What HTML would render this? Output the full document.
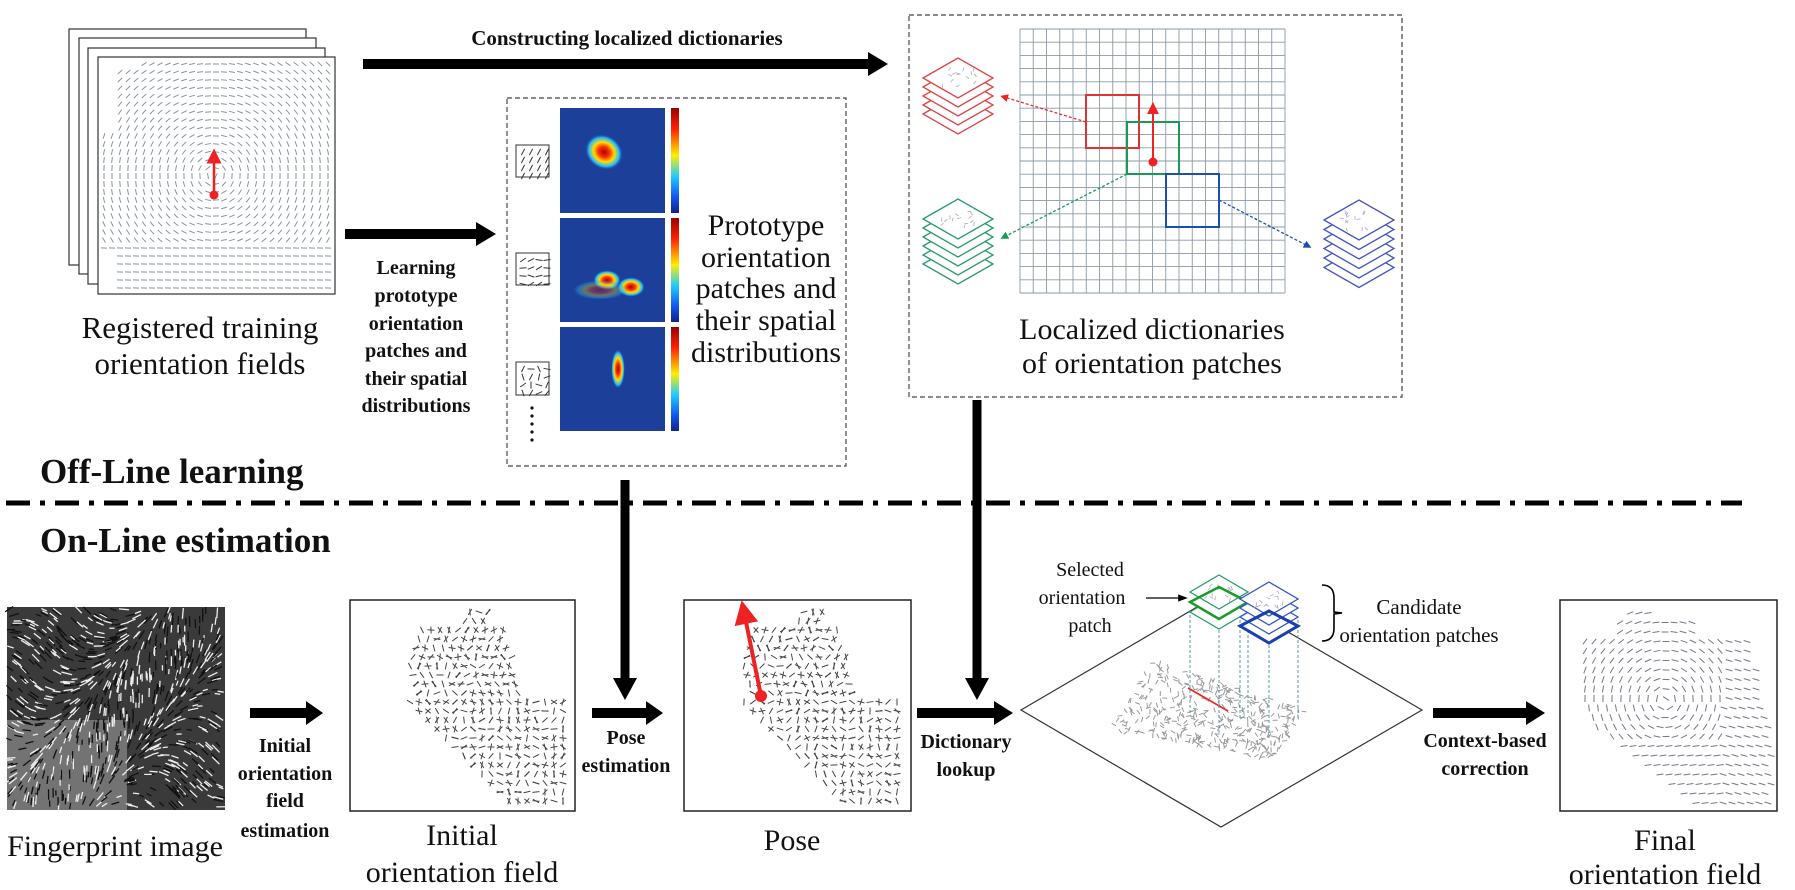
<!DOCTYPE html>
<html><head><meta charset="utf-8"><style>
html,body{margin:0;padding:0;background:#fff}
svg{display:block}
.s{font-family:"Liberation Serif",serif;fill:#111}
.b{font-family:"Liberation Serif",serif;font-weight:bold;fill:#111}
</style></head><body>
<svg id="sv" width="1795" height="890" viewBox="0 0 1795 890" xmlns="http://www.w3.org/2000/svg">
<defs>
<marker id="ahr" markerWidth="6" markerHeight="6" refX="3" refY="3" orient="auto" markerUnits="strokeWidth"><path d="M0,0 L6,3 L0,6z" fill="#e22"/></marker>
<marker id="ahg" markerWidth="6" markerHeight="6" refX="3" refY="3" orient="auto" markerUnits="strokeWidth"><path d="M0,0 L6,3 L0,6z" fill="#1a9a55"/></marker>
<marker id="ahb" markerWidth="6" markerHeight="6" refX="3" refY="3" orient="auto" markerUnits="strokeWidth"><path d="M0,0 L6,3 L0,6z" fill="#1a4fb0"/></marker>
<marker id="aht" markerWidth="8" markerHeight="8" refX="4" refY="4" orient="auto" markerUnits="strokeWidth"><path d="M0,1 L8,4 L0,7z" fill="#000"/></marker>
<radialGradient id="h1" cx="0.5" cy="0.5" r="0.5"><stop offset="0" stop-color="#a00"/><stop offset="0.3" stop-color="#f30"/><stop offset="0.55" stop-color="#fd0"/><stop offset="0.8" stop-color="#2bf"/><stop offset="1" stop-color="#1c3f9a" stop-opacity="0"/></radialGradient>
<linearGradient id="cb" x1="0" y1="0" x2="0" y2="1"><stop offset="0" stop-color="#900"/><stop offset="0.2" stop-color="#f20"/><stop offset="0.45" stop-color="#fe0"/><stop offset="0.65" stop-color="#2cf"/><stop offset="0.85" stop-color="#15e"/><stop offset="1" stop-color="#128"/></linearGradient>
</defs>

<g fill="#fff" stroke="#333" stroke-width="1.2">
<rect x="69" y="29" width="237" height="236"/>
<rect x="79" y="38" width="237" height="236"/>
<rect x="88" y="48" width="237" height="236"/>
<rect x="98" y="57" width="237" height="237"/>
</g>
<g id="tf"></g>
<line x1="214" y1="195" x2="214" y2="156" stroke="#e22" stroke-width="2.5" marker-end="url(#ahr)"/>
<circle cx="214" cy="195" r="4.5" fill="#e22"/>
<text class="s" x="200" y="338" font-size="31" text-anchor="middle">Registered training</text>
<text class="s" x="200" y="374" font-size="31" text-anchor="middle">orientation fields</text>

<text class="b" x="627" y="45" font-size="21" text-anchor="middle">Constructing  localized  dictionaries</text>
<line x1="363" y1="64" x2="872" y2="64" stroke="#000" stroke-width="10"/>
<path d="M868,52 L888,64 L868,76z" fill="#000"/>

<line x1="345" y1="234" x2="480" y2="234" stroke="#000" stroke-width="10"/>
<path d="M476,222 L496,234 L476,246z" fill="#000"/>
<g class="b" font-size="20" text-anchor="middle">
<text x="416" y="274">Learning</text><text x="416" y="302">prototype</text><text x="416" y="330">orientation</text><text x="416" y="357">patches and</text><text x="416" y="385">their spatial</text><text x="416" y="412">distributions</text>
</g>

<rect x="507" y="98" width="339" height="368" fill="none" stroke="#444" stroke-width="1.2" stroke-dasharray="5,3"/>
<g stroke="#333" fill="#fff"><rect x="516" y="145" width="33" height="32"/><rect x="516" y="253" width="33" height="32"/><rect x="516" y="362" width="33" height="33"/></g>
<g id="icons"></g>
<g fill="#111"><circle cx="532" cy="408" r="1.6"/><circle cx="532" cy="416" r="1.6"/><circle cx="532" cy="424" r="1.6"/><circle cx="532" cy="432" r="1.6"/><circle cx="532" cy="440" r="1.6"/></g>
<rect x="560" y="108" width="105" height="105" fill="#1c3f9a"/>
<rect x="560" y="218" width="105" height="104" fill="#1c3f9a"/>
<rect x="560" y="327" width="105" height="104" fill="#1c3f9a"/>
<ellipse cx="604" cy="152" rx="20" ry="17" fill="url(#h1)" transform="rotate(35 604 152)"/>
<ellipse cx="607" cy="280" rx="14" ry="10" fill="url(#h1)"/>
<ellipse cx="631" cy="287" rx="14" ry="10" fill="url(#h1)"/>
<ellipse cx="600" cy="290" rx="28" ry="10" fill="url(#h1)" opacity="0.35"/>
<ellipse cx="618" cy="369" rx="7" ry="20" fill="url(#h1)"/>
<rect x="671" y="108" width="8" height="105" fill="url(#cb)"/>
<rect x="671" y="218" width="8" height="104" fill="url(#cb)"/>
<rect x="671" y="327" width="8" height="104" fill="url(#cb)"/>
<g class="s" font-size="30" text-anchor="middle">
<text x="766" y="235">Prototype</text><text x="766" y="267">orientation</text><text x="766" y="298">patches and</text><text x="766" y="330">their spatial</text><text x="766" y="362">distributions</text>
</g>

<rect x="909" y="15" width="493" height="382" fill="none" stroke="#444" stroke-width="1.2" stroke-dasharray="5,3"/>
<g id="grid" stroke="#8a9aa8" stroke-width="0.9"></g>
<rect x="1086" y="95" width="53" height="53" fill="none" stroke="#d33" stroke-width="2"/>
<rect x="1127" y="122" width="52" height="52" fill="none" stroke="#1a9a55" stroke-width="2"/>
<rect x="1166" y="174" width="53" height="53" fill="none" stroke="#1a4fb0" stroke-width="2"/>
<line x1="1153" y1="162" x2="1153" y2="108" stroke="#e22" stroke-width="2" marker-end="url(#ahr)"/>
<circle cx="1153" cy="162" r="4.5" fill="#e22"/>
<line x1="1086" y1="122" x2="1004" y2="97" stroke="#d33" stroke-width="1.3" stroke-dasharray="3,2" marker-end="url(#ahr)"/>
<line x1="1127" y1="174" x2="1004" y2="237" stroke="#1a9a55" stroke-width="1.3" stroke-dasharray="3,2" marker-end="url(#ahg)"/>
<line x1="1219" y1="200" x2="1308" y2="246" stroke="#1a4fb0" stroke-width="1.3" stroke-dasharray="3,2" marker-end="url(#ahb)"/>
<g id="stacks"></g>
<text class="s" x="1152" y="339" font-size="30" text-anchor="middle">Localized dictionaries</text>
<text class="s" x="1152" y="373" font-size="30" text-anchor="middle">of orientation patches</text>

<line x1="625" y1="480" x2="625" y2="680" stroke="#000" stroke-width="9"/>
<path d="M613,678 L625,700 L637,678z" fill="#000"/>
<line x1="977" y1="400" x2="977" y2="680" stroke="#000" stroke-width="9"/>
<path d="M965,678 L977,700 L989,678z" fill="#000"/>

<text class="b" x="40" y="483" font-size="35">Off-Line learning</text>
<line x1="6" y1="503" x2="1742" y2="503" stroke="#000" stroke-width="5" stroke-dasharray="24,10,5,10"/>
<text class="b" x="40" y="552" font-size="35">On-Line estimation</text>

<rect x="7" y="607" width="218" height="203" fill="#3a3a3a"/>
<g id="fp"></g>
<text class="s" x="115" y="856" font-size="30" text-anchor="middle">Fingerprint image</text>

<line x1="250" y1="713" x2="310" y2="713" stroke="#000" stroke-width="10"/>
<path d="M306,701 L323,713 L306,725z" fill="#000"/>
<g class="b" font-size="20" text-anchor="middle"><text x="285" y="752">Initial</text><text x="285" y="780">orientation</text><text x="285" y="807">field</text><text x="285" y="837">estimation</text></g>

<rect x="350" y="600" width="225" height="211" fill="#fff" stroke="#222" stroke-width="1.5"/>
<g id="if1"></g>
<text class="s" x="462" y="845" font-size="30" text-anchor="middle">Initial</text>
<text class="s" x="462" y="882" font-size="30" text-anchor="middle">orientation field</text>

<line x1="592" y1="713" x2="650" y2="713" stroke="#000" stroke-width="10"/>
<path d="M646,701 L663,713 L646,725z" fill="#000"/>
<g class="b" font-size="20" text-anchor="middle"><text x="626" y="744">Pose</text><text x="626" y="772">estimation</text></g>

<rect x="684" y="600" width="227" height="211" fill="#fff" stroke="#222" stroke-width="1.5"/>
<g id="if2"></g>
<line x1="761" y1="696" x2="744" y2="612" stroke="#e22" stroke-width="4" marker-end="url(#ahr)"/>
<circle cx="761" cy="696" r="6" fill="#e22"/>
<text class="s" x="792" y="850" font-size="30" text-anchor="middle">Pose</text>

<line x1="917" y1="713" x2="998" y2="713" stroke="#000" stroke-width="10"/>
<path d="M994,701 L1013,713 L994,725z" fill="#000"/>
<g class="b" font-size="20" text-anchor="middle"><text x="966" y="748">Dictionary</text><text x="966" y="776">lookup</text></g>

<path d="M1021,710 L1221,593 L1422,710 L1221,827z" fill="#fff" stroke="#333" stroke-width="1.2"/>
<g id="df"></g>
<line x1="1188" y1="688" x2="1228" y2="711" stroke="#e22" stroke-width="1.6"/>
<g id="st2"></g>
<g class="s" font-size="20" text-anchor="middle"><text x="1090" y="576">Selected</text><text x="1082" y="604">orientation</text><text x="1090" y="632">patch</text></g>
<line x1="1146" y1="598" x2="1183" y2="598" stroke="#000" stroke-width="1.2" marker-end="url(#aht)"/>
<path d="M1322,585 Q1334,585 1334,598 L1334,612 L1342,613 L1334,614 L1334,628 Q1334,641 1322,641" fill="none" stroke="#000" stroke-width="1.6"/>
<g class="s" font-size="21" text-anchor="middle"><text x="1419" y="614">Candidate</text><text x="1419" y="642">orientation  patches</text></g>

<line x1="1433" y1="713" x2="1530" y2="713" stroke="#000" stroke-width="10"/>
<path d="M1526,701 L1545,713 L1526,725z" fill="#000"/>
<g class="b" font-size="20" text-anchor="middle"><text x="1485" y="747">Context-based</text><text x="1485" y="775">correction</text></g>

<rect x="1560" y="600" width="217" height="211" fill="#fff" stroke="#222" stroke-width="1.5"/>
<g id="ff"></g>
<text class="s" x="1665" y="850" font-size="30" text-anchor="middle">Final</text>
<text class="s" x="1665" y="884" font-size="30" text-anchor="middle">orientation field</text>
</svg>
<script>
(function(){
var NS="http://www.w3.org/2000/svg";
function el(p,t,a){var e=document.createElementNS(NS,t);for(var k in a)e.setAttribute(k,a[k]);p.appendChild(e);return e;}
function seg(g,x,y,ang,L,col,w){var dx=Math.cos(ang)*L/2,dy=Math.sin(ang)*L/2;el(g,"line",{x1:x-dx,y1:y-dy,x2:x+dx,y2:y+dy,stroke:col,"stroke-width":w||1});}
var s=1;function rnd(){s=(s*16807)%2147483647;return s/2147483647;}
var g=document.getElementById("tf");
for(var y=64;y<290;y+=8)for(var x=104;x<332;x+=8){var dx=x-214,dy=y-175;if(y<70&&x<140)continue;if(x<118&&y<130)continue;if(x<120&&y>250)continue;
var a=Math.atan2(dy,dx)+Math.PI/2;if(y>240)a=0.05;seg(g,x,y,a,6,"#8a97a0",1);}
var ic=document.getElementById("icons");
[145,253,362].forEach(function(y0,i){for(var yy=y0+5;yy<y0+32;yy+=8)for(var xx=520;xx<548;xx+=8)seg(ic,xx+3,yy+2,i==0?-1.1:(i==1?-0.6+rnd():rnd()*3),7,"#333",1);});
var gr=document.getElementById("grid");
for(var i=0;i<=20;i++){var x=1020+i*13.25;el(gr,"line",{x1:x,y1:29,x2:x,y2:293});var y=29+i*13.2;el(gr,"line",{x1:1020,y1:y,x2:1285,y2:y});}
function stack(p,cx,top,n,col,w,h,off){for(var k=n-1;k>=0;k--){var y=top+k*off;el(p,"path",{d:"M"+(cx-w/2)+","+(y+h/2)+" L"+cx+","+y+" L"+(cx+w/2)+","+(y+h/2)+" L"+cx+","+(y+h)+"z",fill:"#fff",stroke:col,"stroke-width":1.3});}
for(var j=0;j<14;j++){seg(p,cx-w/4+rnd()*w/2,top+h/4+rnd()*h/2,rnd()*3,4,"#aab",0.8);}}
var st=document.getElementById("stacks");
stack(st,958,58,5,"#d44",70,40,9);
stack(st,958,199,6,"#2a9a6a",70,40,9);
stack(st,1359,200,6,"#4455c0",70,40,9.5);
var fp=document.getElementById("fp");
el(fp,"rect",{x:7,y:720,width:120,height:90,fill:"#9a9a9a",opacity:0.6});
for(var k=0;k<900;k++){var x=9+rnd()*212,y=609+rnd()*198;seg(fp,x,y,-0.4+Math.sin(x/40+y/50)*1.2,5+rnd()*6,rnd()<0.5?"#eee":"#111",1.3);}
function field(id,ox){var f=document.getElementById(id);
for(var r=0;r<22;r++){var y=612+r*9;var xs,xe;
if(r<2){xs=ox+115+(1-r)*5;xe=ox+140;}else if(r<10){xs=ox+60+Math.abs(r-6)*3;xe=ox+150+r*3;}else{xs=ox+60+(r-10)*9;xe=ox+222;}
for(var x=xs;x<xe;x+=9){seg(f,x,y,rnd()*3.14,7,"#444",1);if(rnd()<0.6)seg(f,x,y,rnd()*3.14,7,"#444",1);}}}
field("if1",350);field("if2",684);
var df=document.getElementById("df");
for(var k=0;k<420;k++){var u=rnd(),v=rnd();var x=1150+u*160-v*40,y=660+u*50+v*70-u*v*20;seg(df,x,y,rnd()*3.14,5,"#999",1);}
var s2=document.getElementById("st2");
el(s2,"path",{d:"M1190,610 L1190,715 M1248,610 L1248,715 M1219,630 L1219,735 M1240,620 L1240,720 M1298,620 L1298,720 M1269,640 L1269,740",stroke:"#59a",fill:"none","stroke-width":1,"stroke-dasharray":"3,2"});
stack(s2,1219,575,3,"#2a9a6a",58,34,10);
el(s2,"path",{d:"M1190,602 L1219,587 L1248,602 L1219,619z",fill:"none",stroke:"#1a9a2a","stroke-width":2.5});
stack(s2,1269,582,4,"#3355c0",58,34,9);
el(s2,"path",{d:"M1240,626 L1269,611 L1298,626 L1269,643z",fill:"none",stroke:"#1a3fb0","stroke-width":3});
var ff=document.getElementById("ff");
for(var r=0;r<21;r++){var y=613+r*9.5;var xs,xe;
if(r<1){xs=1630;xe=1650;}else if(r<3){xs=1620;xe=1700;}else if(r<13){xs=1585+Math.max(0,r-9)*4;xe=1745+r*2;}else{xs=1600+(r-12)*12;xe=1772;}
for(var x=xs;x<xe;x+=9){var dx=x-1665,dy=y-700;var a=r>13?-0.15:Math.atan2(dy,dx)+Math.PI/2;if(x>1720)a=0.3;seg(ff,x,y,a,7,"#778",1);}}
})();
</script>
</body></html>
